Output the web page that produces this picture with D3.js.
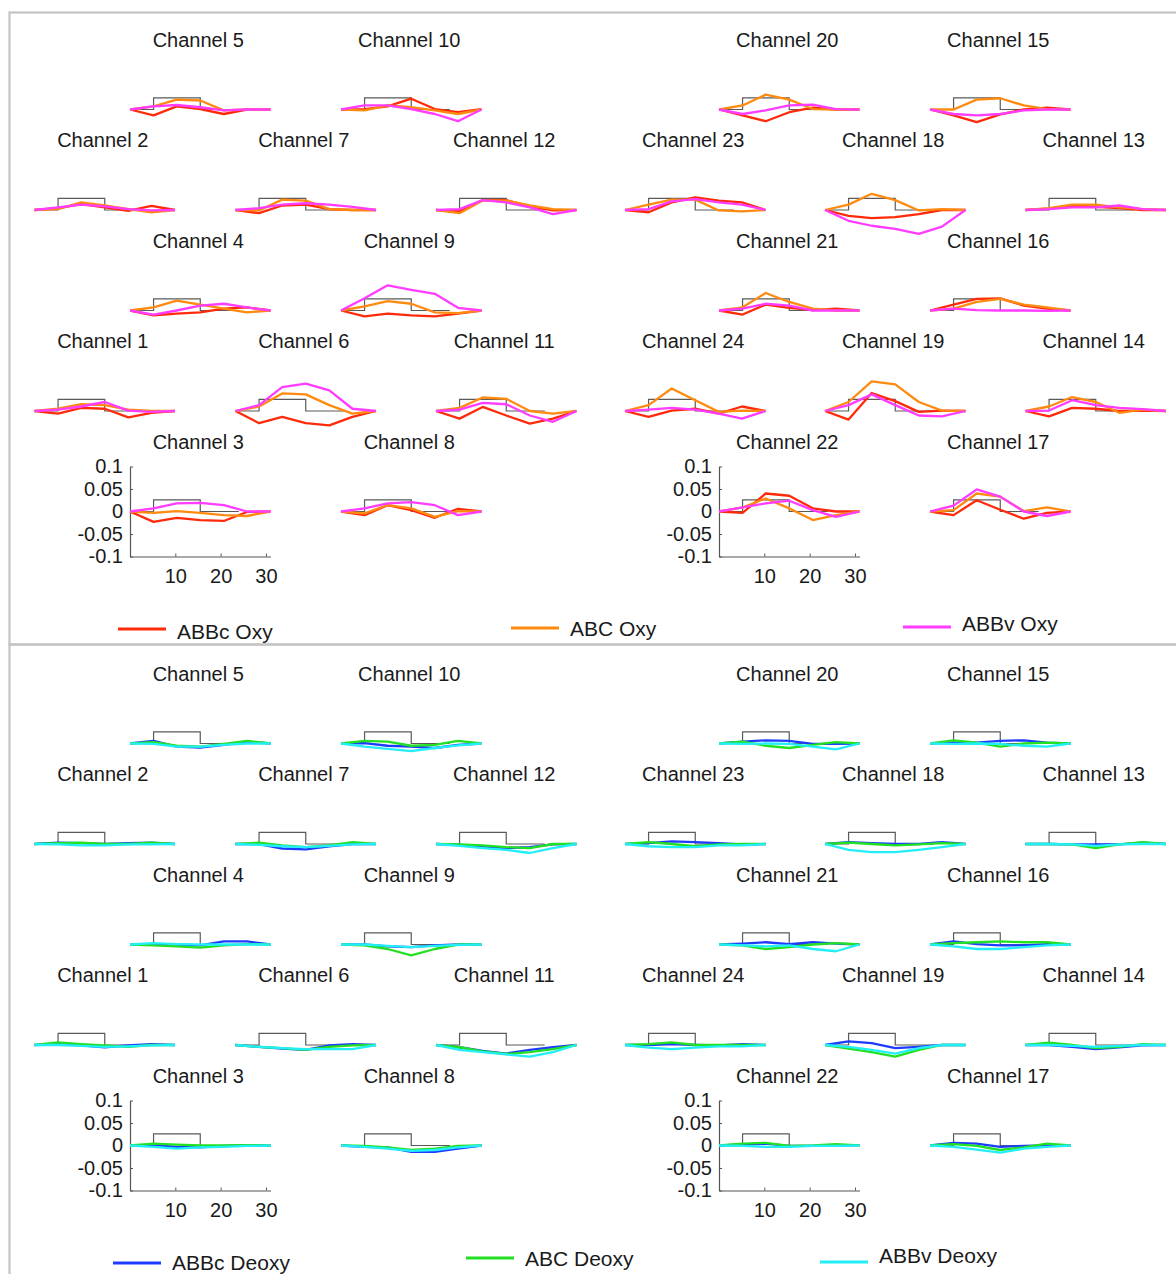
<!DOCTYPE html>
<html>
<head>
<meta charset="utf-8">
<script src="https://cdn.jsdelivr.net/npm/d3@7/dist/d3.min.js"></script>
<style>
  html, body { margin: 0; padding: 0; background: #fff; }
  svg { display: block; font-family: Arial, "Liberation Sans", sans-serif; }
</style>
</head>
<body>
<svg id="chart" width="1176" height="1274"></svg>
<script>
// ── Data ─────────────────────────────────────────────────────────
// sample times (s) of each averaged curve
const times = [0, 5.2, 10.3, 15.5, 20.7, 25.8, 31];
// stimulus block marker (grey step)
const stimT = [0, 5.2, 5.2, 15.5, 15.5, 24];
const stimV = [0, 0, 0.026, 0.026, 0, 0];

// channel arrangement, left and right probe sets, rows top→bottom
const leftRows  = [[5, 10], [2, 7, 12], [4, 9], [1, 6, 11], [3, 8]];
const rightRows = [[20, 15], [23, 18, 13], [21, 16], [24, 19, 14], [22, 17]];

const yTicks = [-0.1, -0.05, 0, 0.05, 0.1];
const yTickLabels = ["-0.1", "-0.05", "0", "0.05", "0.1"];
const xTicks = [10, 20, 30];

// Oxy curves per channel
const oxyABBc = {
  1: [0, -0.006, 0.007, 0.005, -0.014, -0.004, 0],
  2: [0, 0.004, 0.013, 0.006, -0.002, 0.009, 0],
  3: [0, -0.023, -0.014, -0.019, -0.021, -0.001, 0],
  4: [0, -0.011, -0.007, -0.004, 0.004, 0.007, 0],
  5: [0, -0.013, 0.007, 0.001, -0.010, 0, 0],
  6: [0, -0.027, -0.013, -0.027, -0.032, -0.013, 0],
  7: [0, -0.007, 0.010, 0.012, 0.002, 0, 0],
  8: [0, -0.008, 0.014, 0.003, -0.014, 0.006, 0],
  9: [0, -0.013, -0.007, -0.011, -0.013, -0.007, 0],
  10: [0, 0.001, 0.007, 0.024, 0.001, -0.006, 0.001],
  11: [0, -0.017, 0.009, -0.010, -0.028, -0.017, 0],
  12: [0, -0.003, 0.022, 0.022, 0.008, -0.001, 0],
  13: [0, 0.003, 0.010, 0.007, 0.004, 0, 0],
  14: [0, -0.012, 0.007, 0.005, 0, 0.001, 0],
  15: [0, -0.013, -0.028, -0.011, 0, 0.004, 0],
  16: [0, 0.013, 0.026, 0.027, 0.011, 0.004, 0],
  17: [0, -0.008, 0.025, 0.004, -0.016, -0.003, 0],
  18: [0, -0.013, -0.018, -0.016, -0.009, 0, 0],
  19: [0, -0.019, 0.040, 0.022, -0.002, 0.001, 0],
  20: [0, -0.013, -0.026, -0.006, 0.004, 0, 0],
  21: [0, -0.009, 0.013, 0.006, 0.001, 0.004, 0],
  22: [0, -0.003, 0.040, 0.035, 0.007, 0, 0],
  23: [0, -0.005, 0.017, 0.028, 0.021, 0.017, 0],
  24: [0, -0.013, 0.001, 0.005, -0.006, 0.010, 0]
};
const oxyABC = {
  1: [0, 0.005, 0.015, 0.013, 0.003, 0, 0],
  2: [0, 0.002, 0.017, 0.010, 0.002, -0.005, 0],
  3: [0, -0.003, 0.001, -0.003, -0.008, -0.010, 0],
  4: [0, 0.007, 0.022, 0.013, 0.004, -0.004, 0],
  5: [0, 0.007, 0.022, 0.020, -0.002, 0, 0],
  6: [0, 0.010, 0.039, 0.037, 0.013, -0.006, 0],
  7: [0, -0.001, 0.023, 0.021, 0.002, 0, 0],
  8: [0, -0.004, 0.014, 0.007, -0.012, 0.001, 0],
  9: [0, 0.009, 0.021, 0.015, -0.004, -0.006, 0],
  10: [0, -0.002, 0.009, 0.005, -0.002, -0.010, 0],
  11: [0, 0.007, 0.030, 0.027, 0, -0.006, 0],
  12: [0, -0.007, 0.021, 0.021, 0.010, 0.002, 0],
  13: [0, 0.004, 0.012, 0.012, 0.006, 0.002, 0],
  14: [0, 0.010, 0.031, 0.020, -0.004, 0.003, 0],
  15: [0, 0, 0.022, 0.025, 0.009, 0.001, 0],
  16: [0, 0.004, 0.019, 0.026, 0.013, 0.007, 0],
  17: [0, 0.003, 0.040, 0.033, 0.001, 0.009, 0],
  18: [0, 0.012, 0.036, 0.022, -0.001, 0.002, 0],
  19: [0, 0.020, 0.066, 0.059, 0.020, 0.001, 0],
  20: [0, 0.009, 0.033, 0.022, 0.001, 0, 0],
  21: [0, 0.007, 0.039, 0.019, 0.004, 0, 0],
  22: [0, 0.009, 0.029, 0.007, -0.019, -0.008, 0],
  23: [0, 0.012, 0.023, 0.023, -0.001, -0.003, 0],
  24: [0, 0.013, 0.050, 0.024, -0.002, 0.001, 0]
};
const oxyABBv = {
  1: [0, 0.003, 0.010, 0.020, 0.001, -0.002, 0],
  2: [0, 0.006, 0.012, 0.008, 0.002, -0.001, 0],
  3: [0, 0.007, 0.018, 0.019, 0.014, 0, 0],
  4: [0, -0.009, 0, 0.011, 0.015, 0.007, 0],
  5: [0, 0.007, 0.010, 0.005, -0.002, 0, 0],
  6: [0, 0.013, 0.053, 0.061, 0.046, 0.005, 0],
  7: [0, 0.004, 0.012, 0.015, 0.012, 0.007, 0],
  8: [0, 0.007, 0.018, 0.021, 0.014, -0.008, 0],
  9: [0, 0.027, 0.056, 0.046, 0.037, 0.006, 0],
  10: [0, 0.009, 0.009, 0.001, -0.010, -0.026, 0],
  11: [0, 0.003, 0.018, 0.015, -0.010, -0.024, 0],
  12: [0, 0.002, 0.022, 0.017, 0.006, -0.009, 0],
  13: [0, 0.002, 0.006, 0.006, 0.010, 0.002, 0],
  14: [0, 0.001, 0.024, 0.013, 0.007, 0.004, 0],
  15: [0, -0.010, -0.013, -0.010, -0.002, 0, 0],
  16: [0, 0.004, 0.001, 0, 0, -0.001, 0],
  17: [0, 0.013, 0.049, 0.033, 0, -0.010, 0],
  18: [0, -0.024, -0.035, -0.042, -0.053, -0.037, 0],
  19: [0, 0.013, 0.037, 0.013, -0.010, -0.012, 0],
  20: [0, -0.010, -0.002, 0.009, 0.011, 0.001, 0],
  21: [0, 0.004, 0.015, 0.011, 0, 0, 0],
  22: [0, 0.009, 0.018, 0.024, 0.003, -0.012, 0],
  23: [0, 0.002, 0.019, 0.024, 0.017, 0.012, 0],
  24: [0, 0.003, 0.007, 0.003, -0.006, -0.017, 0]
};

// Deoxy curves per channel
const deoxyABBc = {
  1: [0, 0.002, -0.001, -0.005, -0.001, 0.002, 0],
  2: [0, 0.003, 0.002, 0, 0.002, 0.003, 0],
  3: [0, 0.001, -0.003, -0.004, -0.001, 0, 0],
  4: [0, 0, 0, -0.002, 0.007, 0.007, 0],
  5: [0, 0.006, -0.007, -0.009, -0.003, 0.004, 0],
  6: [0, -0.004, -0.008, -0.011, -0.001, 0.002, 0],
  7: [0, 0, -0.010, -0.012, -0.005, 0, 0],
  8: [0, -0.003, -0.004, -0.014, -0.014, -0.007, 0],
  9: [0, 0, -0.004, -0.006, -0.002, 0, 0],
  10: [0, 0.001, -0.005, -0.007, -0.010, -0.003, 0],
  11: [0, -0.005, -0.013, -0.019, -0.011, -0.005, 0],
  12: [0, -0.002, -0.005, -0.009, -0.007, -0.001, 0],
  13: [0, 0, -0.001, -0.001, -0.001, 0.003, 0],
  14: [0, 0, -0.004, -0.009, -0.005, -0.001, 0],
  15: [0, 0.002, 0.002, 0.006, 0.007, 0.002, 0],
  16: [0, 0.007, 0.001, -0.002, -0.002, 0.001, 0],
  17: [0, 0.006, 0.004, -0.003, -0.001, 0, 0],
  18: [0, 0.004, 0.002, 0, 0, 0.004, 0],
  19: [0, 0.008, 0.004, -0.007, -0.004, 0, 0],
  20: [0, 0.004, 0.007, 0.006, -0.001, -0.001, 0],
  21: [0, 0.002, 0.005, 0.001, 0.005, 0.002, 0],
  22: [0, 0.002, 0.004, -0.001, -0.001, 0, 0.001],
  23: [0, 0.002, 0.006, 0.004, 0.002, -0.001, 0],
  24: [0, 0, 0.002, 0, -0.001, 0.002, 0]
};
const deoxyABC = {
  1: [0, 0.006, 0.002, -0.001, -0.004, 0, 0],
  2: [0, 0.002, 0.003, 0, 0, 0.003, 0],
  3: [0, 0.004, 0.002, 0, 0, 0.001, 0],
  4: [0, -0.002, -0.004, -0.007, -0.002, 0.001, 0],
  5: [0, 0.003, -0.005, -0.007, -0.001, 0.006, 0],
  6: [0, -0.004, -0.007, -0.011, -0.004, -0.001, 0],
  7: [0, 0.003, -0.003, -0.007, -0.003, 0.004, 0],
  8: [0, -0.001, -0.004, -0.010, -0.007, -0.001, 0],
  9: [0, -0.002, -0.010, -0.024, -0.010, 0, 0],
  10: [0, 0.006, 0.004, -0.005, -0.003, 0.006, 0],
  11: [0, -0.005, -0.014, -0.020, -0.016, -0.009, 0],
  12: [0, -0.001, -0.003, -0.007, -0.009, 0, 0],
  13: [0, 0, -0.001, -0.009, -0.001, 0.004, 0],
  14: [0, 0.005, 0, -0.007, -0.004, 0.002, 0],
  15: [0, 0.007, 0.002, -0.007, 0, 0.002, 0],
  16: [0, 0.003, 0.005, 0.007, 0.005, 0.005, 0],
  17: [0, 0.003, -0.001, -0.010, -0.004, 0.004, 0],
  18: [0, 0.003, 0, -0.003, -0.001, 0.002, 0],
  19: [0, -0.008, -0.016, -0.026, -0.011, 0, 0],
  20: [0, 0.004, -0.005, -0.010, -0.003, 0.003, 0],
  21: [0, -0.002, -0.010, -0.006, 0, 0.003, 0],
  22: [0, 0.004, 0.006, -0.001, 0, 0.003, 0],
  23: [0, 0.004, 0, -0.005, -0.001, 0, 0],
  24: [0, 0.002, 0.006, 0, 0, 0, 0]
};
const deoxyABBv = {
  1: [0, 0, -0.002, -0.004, -0.003, -0.001, 0],
  2: [0, -0.001, -0.003, -0.003, -0.001, -0.001, 0],
  3: [0, -0.003, -0.007, -0.004, -0.003, -0.001, 0],
  4: [0, 0.003, 0.001, 0, 0, 0, 0],
  5: [0, -0.001, -0.007, -0.007, -0.003, 0, 0],
  6: [0, -0.004, -0.007, -0.009, -0.009, -0.009, 0],
  7: [0, -0.002, -0.005, -0.007, -0.004, -0.001, 0],
  8: [0, -0.003, -0.007, -0.012, -0.010, -0.004, 0],
  9: [0, 0, -0.003, -0.006, -0.003, -0.001, 0],
  10: [0, -0.007, -0.012, -0.017, -0.010, -0.004, 0],
  11: [0, -0.011, -0.016, -0.021, -0.026, -0.016, 0],
  12: [0, -0.004, -0.009, -0.013, -0.020, -0.009, 0],
  13: [0, 0, -0.001, -0.004, -0.001, 0, 0],
  14: [0, 0, -0.002, -0.004, -0.002, 0, 0],
  15: [0, -0.001, 0, -0.001, -0.005, -0.007, 0],
  16: [0, -0.004, -0.010, -0.010, -0.006, -0.002, 0],
  17: [0, -0.003, -0.009, -0.016, -0.007, -0.003, 0],
  18: [0, -0.013, -0.018, -0.018, -0.013, -0.007, 0],
  19: [0, -0.004, -0.011, -0.019, -0.007, 0, 0],
  20: [0, -0.001, 0, -0.001, -0.007, -0.013, 0],
  21: [0, -0.002, -0.004, -0.002, -0.010, -0.015, 0],
  22: [0, -0.001, -0.003, -0.003, -0.001, -0.001, 0],
  23: [0, -0.005, -0.007, -0.007, -0.003, -0.003, 0],
  24: [0, -0.006, -0.009, -0.006, -0.003, -0.003, 0]
};

const oxyLabels   = ["ABBc Oxy", "ABC Oxy", "ABBv Oxy"];
const deoxyLabels = ["ABBc Deoxy", "ABC Deoxy", "ABBv Deoxy"];

// ── Layout ───────────────────────────────────────────────────────
const svg = d3.select("#chart");
const W = 1176, H = 1274;
const PW = 140.5;       // plot width (px)
const HALF_H = 45;      // px from zero line to ±0.1

// left edge of each subplot: [group][columns in row]
const colX = {
  left:  { 2: [130, 341],   3: [34.5, 235.5, 436] },
  right: { 2: [719, 930],   3: [625, 825, 1025.5] }
};
const rowZero = d3.scaleLinear().domain([0, 4]).range([109.5, 511.5]);

const panels = [
  { offset: 0,   series: [oxyABBc, oxyABC, oxyABBv],
    colors: ["#ff2a0a", "#ff8a10", "#ff3cff"], labels: oxyLabels,
    legendX: [118, 511, 903], legendLineY: [629, 628, 627], legendTextY: [639, 636, 631] },
  { offset: 634, series: [deoxyABBc, deoxyABC, deoxyABBv],
    colors: ["#1e3cff", "#22e022", "#22eef8"], labels: deoxyLabels,
    legendX: [113, 466, 820], legendLineY: [1263, 1258, 1262], legendTextY: [1270, 1266, 1263] }
];

// panel frames
svg.append("rect").attr("x", 9.5).attr("y", 12.5).attr("width", W).attr("height", 632)
  .attr("fill", "none").attr("stroke", "#c4c4c4").attr("stroke-width", 2.2);
svg.append("rect").attr("x", 9.5).attr("y", 644.5).attr("width", W).attr("height", H)
  .attr("fill", "none").attr("stroke", "#c4c4c4").attr("stroke-width", 2.2);

function drawSubplot(g, ch, x0, zero, panel, showAxes) {
  const x = d3.scaleLinear().domain([0, 31]).range([x0, x0 + PW]);
  const y = d3.scaleLinear().domain([-0.1, 0.1]).range([zero + HALF_H, zero - HALF_H]);

  g.append("text")
    .attr("x", x0 + PW / 2 - 2).attr("y", zero - HALF_H - 18)
    .attr("text-anchor", "middle").attr("font-size", 20).attr("fill", "#1a1a1a")
    .text("Channel " + ch);

  if (showAxes) {
    const ya = g.append("g").attr("transform", `translate(${x0},0)`)
      .call(d3.axisLeft(y).tickValues(yTicks).tickSizeInner(-3).tickSizeOuter(0).tickPadding(7)
        .tickFormat((d, i) => yTickLabels[i]));
    const xa = g.append("g").attr("transform", `translate(0,${zero + HALF_H})`)
      .call(d3.axisBottom(x).tickValues(xTicks).tickSizeInner(-3).tickSizeOuter(0).tickPadding(12));
    [ya, xa].forEach(a => {
      a.select(".domain").attr("stroke", "#555").attr("stroke-width", 1.2);
      a.selectAll(".tick line").attr("stroke", "#555");
      a.selectAll("text").attr("font-size", 20).attr("fill", "#1a1a1a")
        .attr("font-family", "Arial, 'Liberation Sans', sans-serif");
    });
  }

  // stimulus block
  const stim = d3.line().x((d, i) => x(stimT[i])).y(d => y(d));
  g.append("path").attr("d", stim(stimV))
    .attr("fill", "none").attr("stroke", "#5a5a5a").attr("stroke-width", 1.2);

  const line = d3.line().x((d, i) => x(times[i])).y(d => y(d));
  panel.series.forEach((s, k) => {
    g.append("path").attr("d", line(s[ch]))
      .attr("fill", "none").attr("stroke", panel.colors[k])
      .attr("stroke-width", 2.3).attr("stroke-linejoin", "round");
  });
}

panels.forEach(panel => {
  const g = svg.append("g");
  [["left", leftRows], ["right", rightRows]].forEach(([side, rows]) => {
    rows.forEach((row, r) => {
      const xs = colX[side][row.length];
      row.forEach((ch, c) => {
        drawSubplot(g, ch, xs[c], rowZero(r) + panel.offset, panel, r === rows.length - 1 && c === 0);
      });
    });
  });

  // legend
  panel.labels.forEach((lab, k) => {
    const lx = panel.legendX[k];
    g.append("line").attr("x1", lx).attr("x2", lx + 48)
      .attr("y1", panel.legendLineY[k]).attr("y2", panel.legendLineY[k])
      .attr("stroke", panel.colors[k]).attr("stroke-width", 3);
    g.append("text").attr("x", lx + 59).attr("y", panel.legendTextY[k])
      .attr("font-size", 21).attr("fill", "#1a1a1a").text(lab);
  });
});
</script>
</body>
</html>
